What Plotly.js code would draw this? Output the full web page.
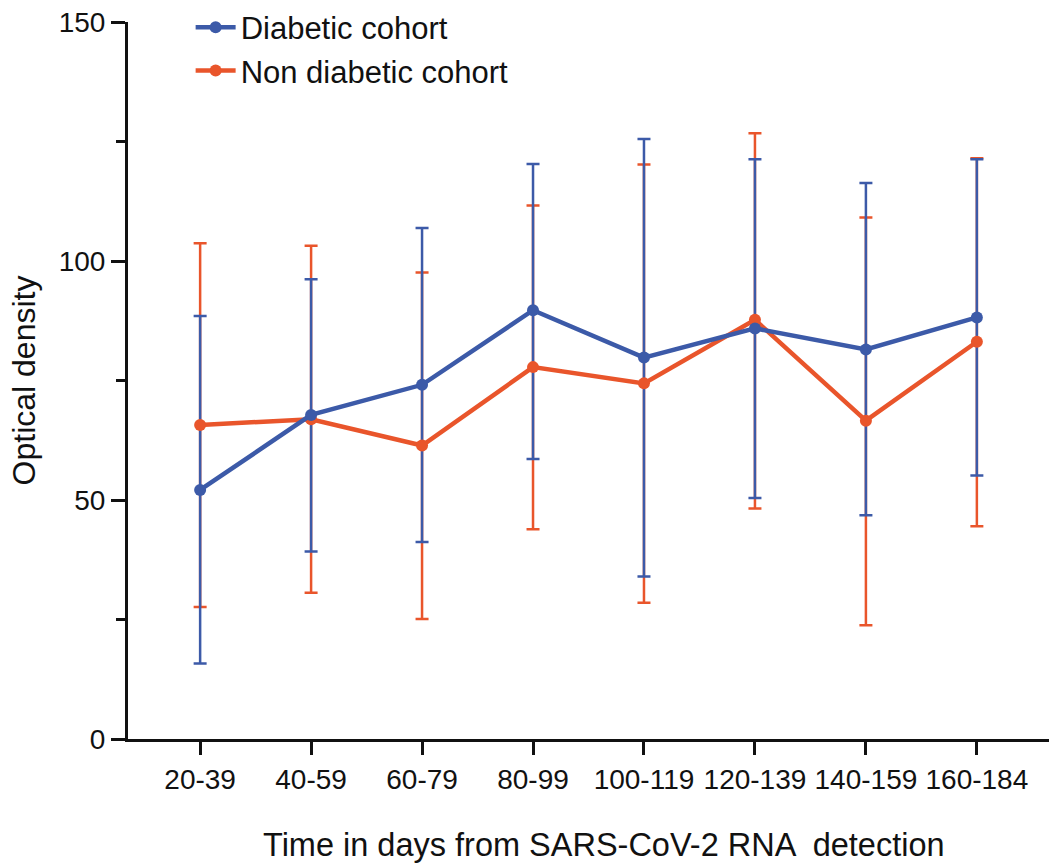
<!DOCTYPE html>
<html>
<head>
<meta charset="utf-8">
<script src="https://cdn.plot.ly/plotly-3.0.1.min.js"></script>
<style>html,body{margin:0;padding:0;background:#fff;}#chart{width:1049px;height:865px;}</style>
</head>
<body>
<div id="chart"></div>
<script>
const categories = ["20-39","40-59","60-79","80-99","100-119","120-139","140-159","160-184"];

const diabeticMean  = [52.1, 67.8, 74.1, 89.7, 79.8, 85.9, 81.5, 88.2];
const diabeticUpper = [88.5, 96.2, 106.9, 120.3, 125.5, 121.3, 116.3, 121.3];
const diabeticLower = [15.8, 39.2, 41.2, 58.6, 34.0, 50.4, 46.8, 55.1];

const nonDiabeticMean  = [65.7, 66.9, 61.4, 77.8, 74.4, 87.7, 66.6, 83.1];
const nonDiabeticUpper = [103.7, 103.2, 97.6, 111.6, 120.2, 126.7, 109.1, 121.5];
const nonDiabeticLower = [27.6, 30.6, 25.1, 43.9, 28.5, 48.2, 23.8, 44.5];

const BLUE = "#3C5AA8";
const ORANGE = "#E9552B";

function errTrace(mean, up, lo, color) {
  return {
    x: categories, y: mean, type: "scatter", mode: "markers",
    marker: {size: 1, opacity: 0, color: color},
    showlegend: false, hoverinfo: "skip",
    error_y: {
      type: "data", symmetric: false,
      array: up.map((u, i) => u - mean[i]),
      arrayminus: lo.map((l, i) => mean[i] - l),
      color: color, thickness: 2.5, width: 6.5
    }
  };
}
function lineTrace(mean, color, name) {
  return {
    x: categories, y: mean, type: "scatter", mode: "lines+markers", name: name,
    line: {color: color, width: 4.5},
    marker: {color: color, size: 12}
  };
}

const data = [
  errTrace(nonDiabeticMean, nonDiabeticUpper, nonDiabeticLower, ORANGE),
  errTrace(diabeticMean, diabeticUpper, diabeticLower, BLUE),
  lineTrace(nonDiabeticMean, ORANGE, "Non diabetic cohort"),
  lineTrace(diabeticMean, BLUE, "Diabetic cohort")
];

const layout = {
  width: 1049, height: 865,
  margin: {l: 128, r: 0, t: 22, b: 126},
  paper_bgcolor: "#fff", plot_bgcolor: "#fff",
  font: {family: "Liberation Sans, Arial, sans-serif", color: "#111"},
  showlegend: true,
  legend: {
    x: 0.068, y: 1.030, xanchor: "left", yanchor: "top",
    traceorder: "reversed",
    font: {size: 31, color: "#111"},
    bgcolor: "rgba(0,0,0,0)", itemwidth: 40, tracegroupgap: 0
  },
  xaxis: {
    type: "category", range: [-0.65, 7.65], automargin: false,
    showline: true, linecolor: "#111", linewidth: 3,
    ticks: "outside", ticklen: 13, tickwidth: 3, tickcolor: "#111",
    showgrid: false, zeroline: false,
    tickfont: {size: 28}
  },
  yaxis: {
    range: [0, 150], tickvals: [0, 50, 100, 150], automargin: false,
    showline: true, linecolor: "#111", linewidth: 3,
    ticks: "outside", ticklen: 14, tickwidth: 3, tickcolor: "#111",
    showgrid: false, zeroline: false,
    tickfont: {size: 28},
    minor: {tickvals: [25, 75, 125], ticks: "outside", ticklen: 9, tickwidth: 3, tickcolor: "#111", showgrid: false},
    title: {text: "Optical density", font: {size: 32}, standoff: 14}
  },
  annotations: [{
    text: "Time in days from SARS-CoV-2 RNA \u00a0detection",
    xref: "paper", yref: "paper", x: 0.517, y: -0.148,
    xanchor: "center", yanchor: "middle", showarrow: false,
    font: {size: 32.5, color: "#111"}
  }]
};

Plotly.newPlot("chart", data, layout, {displayModeBar: false, staticPlot: true});
</script>
</body>
</html>
